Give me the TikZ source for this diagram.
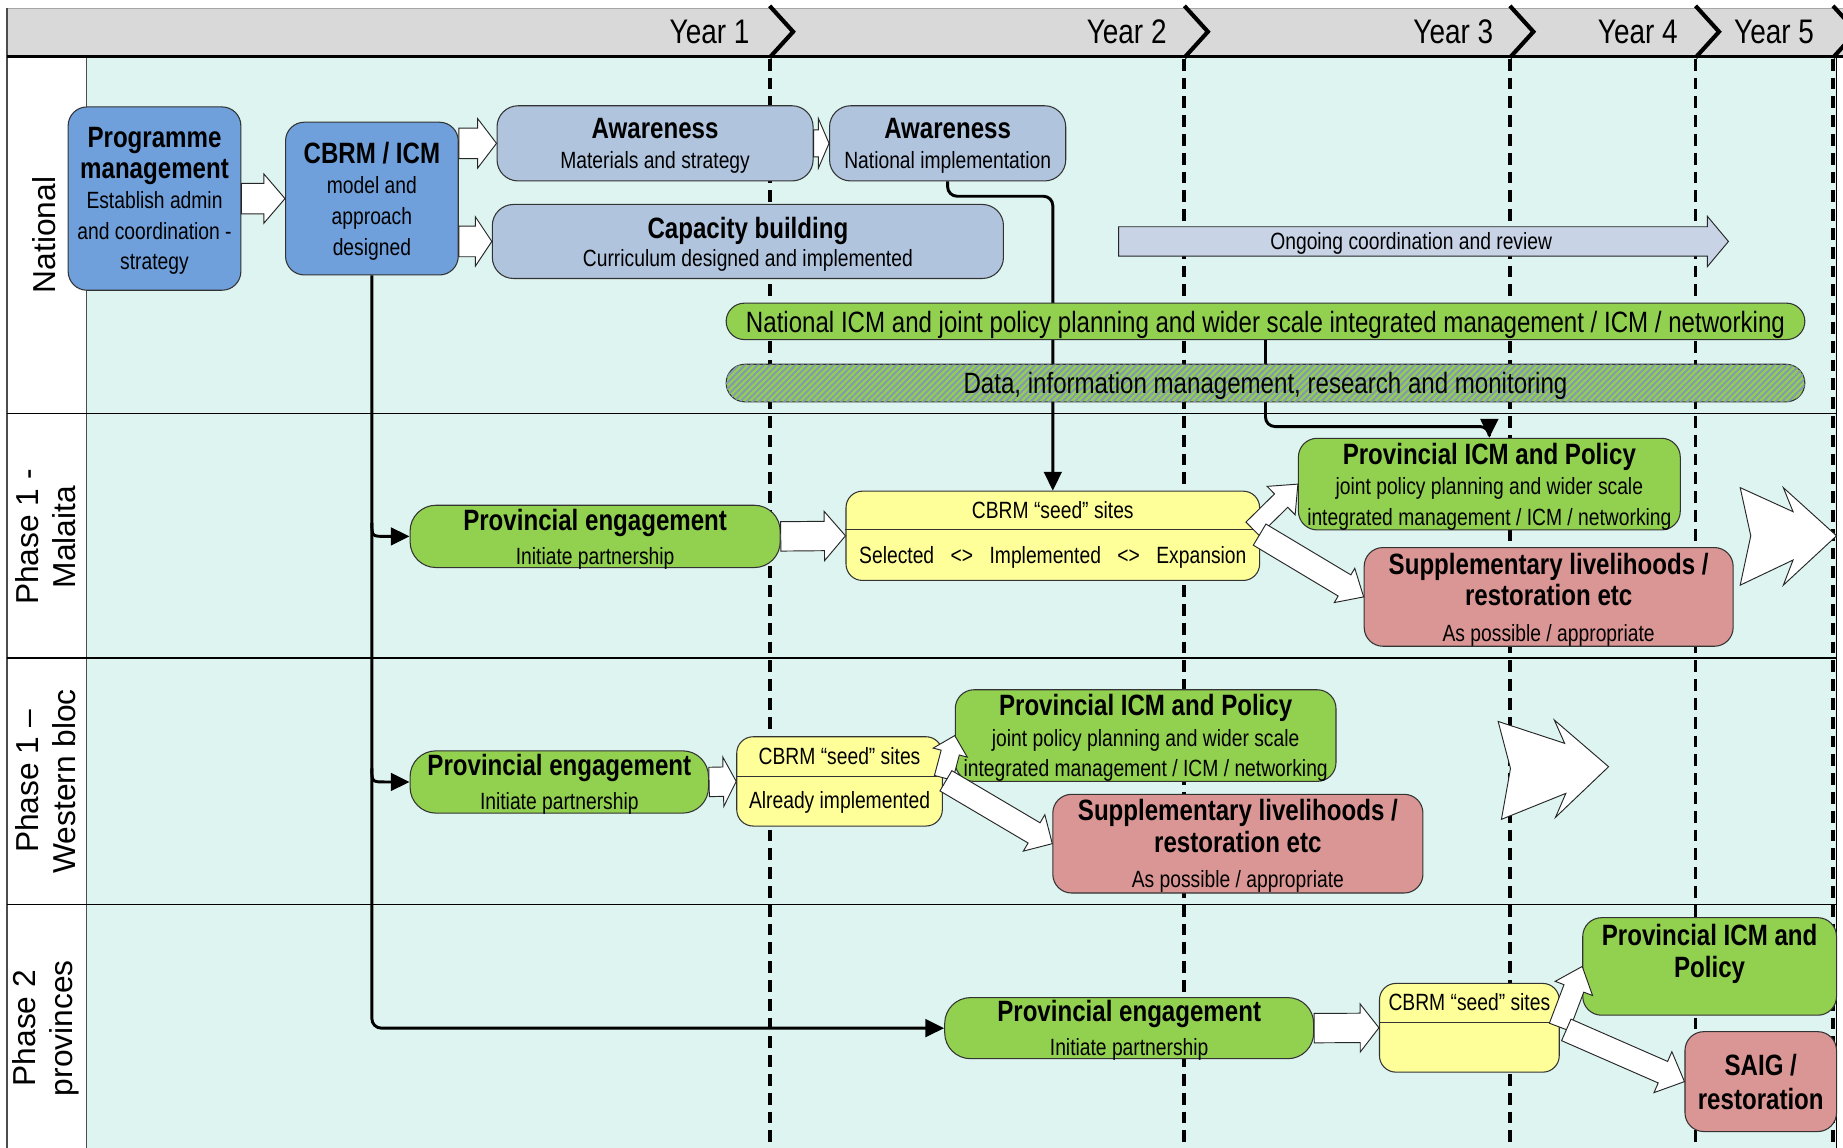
\documentclass[tikz,border=0pt]{standalone}
\usepackage{fontspec}
\setmainfont{Liberation Sans}
\newfontfamily\narrowf[FakeStretch=0.82]{Liberation Sans}
\usetikzlibrary{calc,arrows.meta,patterns.meta}
\definecolor{hdrgray}{HTML}{D9D9D9}
\definecolor{lanebg}{HTML}{DDF4F0}
\definecolor{pmblue}{HTML}{6FA0DC}
\definecolor{awblue}{HTML}{B0C4DE}
\definecolor{ongoing}{HTML}{C8D4E6}
\definecolor{grn}{HTML}{92D050}
\definecolor{yel}{HTML}{FFFF99}
\definecolor{rose}{HTML}{DA9694}
\definecolor{stripe}{HTML}{8498B4}
\newcommand{\boxttl}[1]{{\bfseries\fontsize{25}{26}\selectfont #1}}
\newcommand{\blockarrow}[6][]{%
  \coordinate (bah) at ($(#3)!#6!(#2)$);
  \draw[barrow,#1] ($(#2)!#4!90:(#3)$) -- ($(bah)!#4!90:(#3)$) -- ($(bah)!#5!90:(#3)$) -- (#3) -- ($(bah)!#5!-90:(#3)$) -- ($(bah)!#4!-90:(#3)$) -- ($(#2)!#4!-90:(#3)$) -- cycle;%
}
\tikzset{
  box/.style={draw=black!80, line width=0.9pt, rounded corners=16pt, inner sep=0pt, align=center, text depth=0pt, font={\narrowf\fontsize{20}{26}\selectfont}},
  txt/.style={inner sep=0pt, text depth=0pt, font={\narrowf\fontsize{20}{24}\selectfont}},
  bartxt/.style={font={\narrowf\fontsize{25}{26}\selectfont}},
  yearlbl/.style={inner sep=0pt, anchor=east, font={\narrowf\fontsize{29}{30}\selectfont}},
  lanelbl/.style={rotate=90, align=center, inner sep=0pt, font={\fontsize{27}{31}\selectfont}},
  yearline/.style={line width=3.3pt, dash pattern=on 10pt off 6pt},
  chev/.style={line width=3.5pt, line join=miter},
  lane/.style={line width=1.2pt},
  conn/.style={line width=2.5pt, rounded corners=8pt, -{Triangle[length=16pt,width=15pt]}},
  barrow/.style={fill=white, draw=black!85, line width=0.8pt, line join=miter},
  divider/.style={line width=0.9pt, black!80}
}
\begin{document}
\begin{tikzpicture}[x=1pt,y=-1pt]
\useasboundingbox (0,0) rectangle (1568.5,977);
% background and frame
\fill[white] (0,0) rectangle (1568.5,977);
\fill[hdrgray] (6,7) rectangle (1568.5,48);
\draw[gray!70, line width=1pt] (6,7) -- (1568.5,7);
\fill[lanebg] (74,48) rectangle (1563,977);
\draw[black!70, line width=0.8pt] (74,48) -- (74,977);
\draw[black!70, line width=1pt] (6,7) -- (6,977);
\draw[line width=0.8pt] (1563,48) -- (1563,977);
\foreach \yy in {352,560,770} \draw[lane] (6,\yy) -- (1563,\yy);
\draw[line width=2pt] (6,48) -- (1568.5,48);
\foreach \xx in {655,1008,1285,1443,1560} {
  \draw[yearline] (\xx,50) -- (\xx,977);
  \draw[chev] (\xx,5) -- (\xx+20,27) -- (\xx,49);
}
% year labels
\node[yearlbl] (y1) at (638,27) {Year 1};
\node[yearlbl] (y2) at (993,27) {Year 2};
\node[yearlbl] (y3) at (1271,27) {Year 3};
\node[yearlbl] (y4) at (1428,27) {Year 4};
\node[yearlbl] (y5) at (1544,27) {Year 5};
% lane labels
\node[lanelbl] (ln1) at (38,200) {National};
\node[lanelbl] (ln2) at (39,457) {Phase 1 -\\Malaita};
\node[lanelbl] (ln3) at (39,665) {Phase 1 –\\Western bloc};
\node[lanelbl] (ln4) at (39,875) {Phase 2\\provinces};
% boxes (national)
\node[box, fill=pmblue, minimum width=147pt, minimum height=156pt] (pm) at (131.5,169) {\boxttl{Programme}\\\boxttl{management}\\Establish admin\\and coordination -\\strategy};
\node[box, fill=pmblue, minimum width=147pt, minimum height=130pt] (cbrm) at (316.5,169) {\boxttl{CBRM / ICM}\\model and\\approach\\designed};
\node[box, fill=awblue, rounded corners=18pt, minimum width=269pt, minimum height=64pt] (aw1) at (557.5,122) {\boxttl{Awareness}\\Materials and strategy};
\node[box, fill=awblue, rounded corners=18pt, minimum width=201pt, minimum height=64pt] (aw2) at (806.5,122) {\boxttl{Awareness}\\National implementation};
\node[box, fill=awblue, rounded corners=18pt, minimum width=435pt, minimum height=63pt] (cap) at (636.5,205.5) {\boxttl{Capacity building}\\[-2pt]Curriculum designed and implemented};
% phase boxes
\node[box, fill=grn, rounded corners=22pt, minimum width=315pt, minimum height=53pt] (pe1) at (506.5,456.5) {\boxttl{Provincial engagement}\\[3pt]Initiate partnership};
\node[box, fill=yel, rounded corners=14pt, minimum width=352pt, minimum height=76pt] (seed1) at (896,456) {};
\node[box, fill=grn, minimum width=325pt, minimum height=78pt] (picm1) at (1267.5,412) {\boxttl{Provincial ICM and Policy}\\joint policy planning and wider scale\\integrated management / ICM / networking};
\node[box, fill=rose, minimum width=314pt, minimum height=84pt] (sup1) at (1318,508) {\boxttl{Supplementary livelihoods /}\\[1pt]\boxttl{restoration etc}\\[4pt]As possible / appropriate};
\node[box, fill=grn, rounded corners=22pt, minimum width=254pt, minimum height=53pt] (pe2) at (476,665.5) {\boxttl{Provincial engagement}\\[3pt]Initiate partnership};
\node[box, fill=yel, rounded corners=14pt, minimum width=175pt, minimum height=76pt] (seed2) at (714.5,665) {};
\node[box, fill=grn, minimum width=324pt, minimum height=78pt] (picm2) at (975,626) {\boxttl{Provincial ICM and Policy}\\joint policy planning and wider scale\\integrated management / ICM / networking};
\node[box, fill=rose, minimum width=315pt, minimum height=84pt] (sup2) at (1053.5,718) {\boxttl{Supplementary livelihoods /}\\[1pt]\boxttl{restoration etc}\\[4pt]As possible / appropriate};
\node[box, fill=grn, rounded corners=22pt, minimum width=314pt, minimum height=52pt] (pe3) at (961,875) {\boxttl{Provincial engagement}\\[3pt]Initiate partnership};
\node[box, fill=yel, rounded corners=14pt, minimum width=153pt, minimum height=75.5pt] (seed3) at (1250.5,874.7) {};
\node[box, fill=grn, minimum width=216pt, minimum height=83pt] (picm3) at (1455,822.5) {\boxttl{Provincial ICM and}\\[1pt]\boxttl{Policy}\\[1pt]\mbox{}};
\node[box, fill=rose, minimum width=129pt, minimum height=85pt] (saig) at (1498.5,920.5) {\boxttl{SAIG /}\\[3pt]\boxttl{restoration}};
% connectors (behind bars)
\draw[conn] (aw2.south) -- (aw2.south |- 0,167) -- (seed1.north |- 0,167) -- (seed1.north);
\draw[conn] (cbrm.south) -- (cbrm.south |- pe3.west) -- (pe3.west);
\draw[conn, rounded corners=0pt] (cbrm.south |- 0,445) .. controls (cbrm.south |- pe1.west) .. ($(cbrm.south |- pe1.west)+(12,0)$) -- (pe1.west);
\draw[conn, rounded corners=0pt] (cbrm.south |- 0,654) .. controls (cbrm.south |- pe2.west) .. ($(cbrm.south |- pe2.west)+(12,0)$) -- (pe2.west);
% national bars
\node[box, fill=grn, rounded corners=15.5pt, minimum width=918pt, minimum height=31pt, bartxt] (nicm) at (1077,273.5) {National ICM and joint policy planning and wider scale integrated management / ICM / networking};
\draw[conn] (nicm.south) -- (nicm.south |- 0,363) -- (picm1.north |- 0,363) -- (picm1.north);
\node[box, fill=grn, rounded corners=16pt, minimum width=918pt, minimum height=32pt, bartxt,
  postaction={pattern={Lines[angle=45,distance=3.8pt,line width=1.7pt]}, pattern color=stripe}] (data) at (1077,326) {};
\node[bartxt, inner sep=0pt, text depth=0pt] (datat) at (1077,326) {Data, information management, research and monitoring};
% ongoing arrow
\coordinate (ogs) at (952,205.5);
\coordinate (oge) at (1471,205.5);
\blockarrow[fill=ongoing]{ogs}{oge}{12.5pt}{21.5pt}{18pt}
\node[txt] (ogt) at (1201,205) {Ongoing coordination and review};
% dividers of seed boxes
\draw[divider] (seed1.west |- 0,451) -- (seed1.east |- 0,451);
\draw[divider] (seed2.west |- 0,661) -- (seed2.east |- 0,661);
\draw[divider] (seed3.west |- 0,870) -- (seed3.east |- 0,870);
% block arrows
\coordinate (ca1) at (cbrm.east |- aw1.west);
\coordinate (ca2) at (cbrm.east |- cap.west);
\blockarrow{pm.east}{cbrm.west}{13pt}{21pt}{18pt}
\blockarrow{ca1}{aw1.west}{13pt}{21pt}{16pt}
\blockarrow{ca2}{cap.west}{13pt}{21pt}{14pt}
\blockarrow{aw1.east}{aw2.west}{11.5pt}{21pt}{9pt}
\blockarrow{pe1.east}{seed1.west}{12.5pt}{21pt}{18pt}
\blockarrow{pe2.east}{seed2.west}{12.5pt}{21pt}{11pt}
\blockarrow{pe3.east}{seed3.west}{12.5pt}{20.5pt}{16pt}
\coordinate (s1a) at (1066,450);
\coordinate (s1b) at (1072,455);
\coordinate (s2a) at (803,662);
\coordinate (s2b) at (805,664.5);
\coordinate (s3a) at (1327,874);
\coordinate (s3b) at (1333,876.5);
\blockarrow{s1a}{picm1.west}{8pt}{17pt}{20pt}
\blockarrow{s1b}{sup1.west}{10.5pt}{17pt}{19pt}
\blockarrow{s2a}{picm2.west}{8pt}{15pt}{15pt}
\blockarrow{s2b}{sup2.west}{10pt}{18pt}{18pt}
\blockarrow{s3a}{picm3.west}{9pt}{17pt}{20pt}
\blockarrow{s3b}{saig.west}{10pt}{19pt}{20pt}
% seed texts
\node[txt] (seed1t) at (896,434) {CBRM “seed” sites};
\node[txt] (seed1b) at (896,472) {Selected\hspace{14pt}<>\hspace{14pt}Implemented\hspace{14pt}<>\hspace{14pt}Expansion};
\node[txt] (seed2t) at (714.5,643) {CBRM “seed” sites};
\node[txt] (seed2b) at (714.5,681) {Already implemented};
\node[txt] (seed3t) at (1250.5,853) {CBRM “seed” sites};
% big notched arrows
\draw[barrow] (1481,415) -- (1526,435.5) -- (1517.7,415) -- (1563,456) -- (1517.7,498) -- (1526,476.6) -- (1481,498) -- (1490,456) -- cycle;
\draw[barrow] (1275,614) -- (1331.6,632.6) -- (1322.8,612.8) -- (1369,652.5) -- (1323.8,695.6) -- (1332.6,675.2) -- (1277.8,697.3) -- (1285.5,654) -- cycle;
\end{tikzpicture}
\end{document}
